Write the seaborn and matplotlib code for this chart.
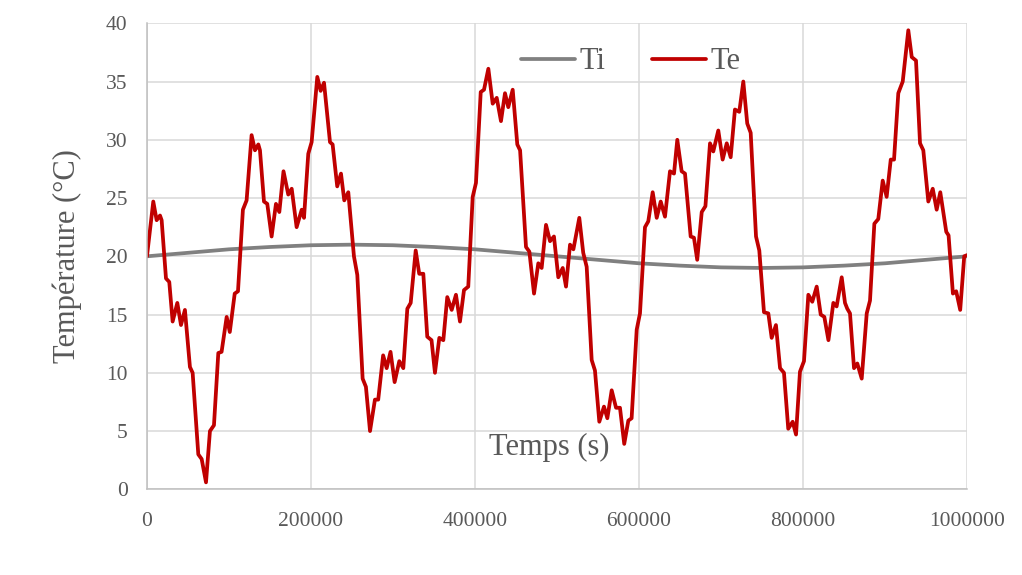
import numpy as np
import pandas as pd
import seaborn as sns
import matplotlib
matplotlib.use("Agg")
import matplotlib.pyplot as plt

# time in kiloseconds (converted to s below)
ti_t = [0, 50, 100, 150, 200, 250, 300, 350, 400, 450, 500,
        550, 600, 650, 700, 750, 800, 850, 900, 950, 1000]
ti_val = [20.0, 20.3, 20.6, 20.8, 20.95, 21.0, 20.95, 20.8, 20.6, 20.3, 20.0,
          19.7, 19.4, 19.2, 19.05, 19.0, 19.05, 19.2, 19.4, 19.7, 20.0]

te_t = [0, 7.7, 11.8, 15.9, 17.9, 23.2, 27.2, 31.3, 37.0, 41.5, 46.3, 52.4, 55.7,
        62.6, 66.7, 72.0, 76.8, 81.7, 87.0, 91.0, 97.2, 101.0, 107.0, 111.0, 117.0,
        121.5, 127.6, 131.7, 135.8, 137.8, 142.7, 146.7, 152.0, 157.3, 161.4, 166.5,
        172.3, 176.5, 182.5, 188.7, 191.5, 196.7, 200.8, 207.7, 211.8, 215.9, 223.2,
        226.4, 232.0, 236.6, 240.6, 245.5, 252.4, 256.5, 263.0, 267.0, 272.0, 278.0,
        282.0, 288.0, 292.3, 297.0, 302.0, 307.7, 312.6, 317.5, 321.6, 327.7, 332.0,
        337.0, 341.8, 347.0, 351.2, 356.5, 361.4, 366.2, 371.6, 376.8, 381.7, 386.6,
        391.8, 397.2, 401.2, 407.0, 411.0, 416.3, 421.6, 426.5, 431.7, 436.6, 440.6,
        446.0, 451.6, 455.0, 462.2, 466.3, 472.0, 477.2, 481.3, 486.6, 491.5, 496.3,
        501.6, 507.0, 511.0, 515.9, 520.0, 527.2, 532.0, 536.2, 542.3, 546.3, 551.6,
        557.3, 561.4, 566.7, 572.0, 576.8, 582.0, 587.0, 591.0, 597.2, 601.2, 607.3,
        611.3, 616.7, 621.6, 626.5, 631.7, 637.8, 642.7, 646.7, 652.0, 656.1, 663.0,
        667.0, 671.0, 676.5, 681.0, 686.6, 690.6, 696.7, 702.0, 707.0, 711.8, 717.0,
        722.3, 727.2, 732.0, 736.2, 742.7, 746.7, 752.4, 757.7, 761.8, 767.0, 772.0,
        776.8, 782.0, 787.4, 791.5, 796.3, 801.2, 806.5, 811.3, 816.7, 821.6, 826.0,
        831.0, 837.0, 841.0, 847.2, 851.2, 854.0, 857.3, 862.2, 866.2, 871.6, 877.7,
        881.7, 887.0, 891.8, 897.2, 902.0, 907.0, 911.0, 916.2, 921.6, 928.4, 932.6,
        937.8, 942.7, 946.7, 952.8, 958.2, 963.0, 967.4, 974.7, 977.5, 982.8, 986.8,
        991.7, 996.6, 1000.0]
te_val = [20.0, 24.7, 23.1, 23.5, 23.1, 18.1, 17.8, 14.4, 16.0, 14.1, 15.4, 10.5, 10.0,
          3.0, 2.6, 0.6, 5.0, 5.5, 11.7, 11.8, 14.8, 13.5, 16.8, 17.0, 24.0,
          24.8, 30.4, 29.1, 29.6, 29.1, 24.7, 24.5, 21.7, 24.5, 23.8, 27.3,
          25.3, 25.8, 22.5, 24.0, 23.3, 28.8, 29.8, 35.4, 34.2, 34.9, 29.8,
          29.6, 26.0, 27.1, 24.8, 25.5, 20.0, 18.4, 9.5, 8.8, 5.0, 7.7,
          7.7, 11.5, 10.4, 11.8, 9.2, 11.0, 10.4, 15.5, 16.0, 20.5, 18.5,
          18.5, 13.1, 12.8, 10.0, 13.0, 12.8, 16.5, 15.4, 16.7, 14.4, 17.1,
          17.4, 25.1, 26.3, 34.1, 34.3, 36.1, 33.1, 33.6, 31.6, 34.0, 32.8,
          34.3, 29.6, 29.1, 20.8, 20.4, 16.8, 19.4, 19.0, 22.7, 21.3, 21.7,
          18.2, 19.0, 17.4, 21.0, 20.6, 23.3, 20.3, 19.1, 11.1, 10.2, 5.8,
          7.1, 6.1, 8.5, 7.0, 7.0, 3.9, 5.9, 6.1, 13.7, 15.1, 22.5,
          23.0, 25.5, 23.3, 24.7, 23.4, 27.3, 27.1, 30.0, 27.3, 27.1, 21.7,
          21.6, 19.7, 23.8, 24.3, 29.7, 29.0, 30.8, 28.3, 29.7, 28.5, 32.6,
          32.4, 35.0, 31.4, 30.6, 21.7, 20.5, 15.2, 15.1, 13.0, 14.1, 10.4,
          10.0, 5.2, 5.8, 4.7, 10.1, 11.0, 16.7, 16.1, 17.4, 15.0, 14.8,
          12.8, 16.0, 15.7, 18.2, 16.0, 15.5, 15.1, 10.4, 10.8, 9.5, 15.1,
          16.2, 22.8, 23.2, 26.5, 25.1, 28.3, 28.3, 34.0, 35.0, 39.4, 37.1,
          36.8, 29.7, 29.1, 24.7, 25.8, 24.0, 25.5, 22.1, 21.8, 16.8, 17.0,
          15.4, 20.0, 20.1]

x_ticks = [0, 200000, 400000, 600000, 800000, 1000000]
y_ticks = [0, 5, 10, 15, 20, 25, 30, 35, 40]

df_ti = pd.DataFrame({"t": np.array(ti_t) * 1000, "T": ti_val})
df_te = pd.DataFrame({"t": np.array(te_t) * 1000, "T": te_val})

sns.set_style("whitegrid")
plt.rcParams["font.family"] = ["Liberation Serif", "DejaVu Serif"]
txt = "#595959"

fig = plt.figure(figsize=(10.22, 5.75), dpi=100)
ax = fig.add_axes([0.1438, 0.149, 0.8024, 0.8105])

sns.lineplot(data=df_ti, x="t", y="T", color="#808080", linewidth=2.7, label="Ti", ax=ax)
sns.lineplot(data=df_te, x="t", y="T", color="#C00000", linewidth=2.7, label="Te", ax=ax)
for l in ax.lines:
    l.set_solid_joinstyle("round")

ax.set_xlim(0, 1000000)
ax.set_ylim(0, 40)
ax.set_xticks(x_ticks)
ax.set_xticklabels([str(v) for v in x_ticks])
ax.set_yticks(y_ticks)
ax.grid(True, color="#d9d9d9", linewidth=1.1)
ax.tick_params(axis="both", length=0, labelsize=15.5, colors=txt)
ax.tick_params(axis="y", pad=14)
ax.tick_params(axis="x", pad=16)
for s in ["top", "right"]:
    ax.spines[s].set_visible(False)
for s in ["left", "bottom"]:
    ax.spines[s].set_color("#bfbfbf")
    ax.spines[s].set_linewidth(1.1)

ax.set_ylabel("Température (°C)", fontsize=22, color=txt)
ax.yaxis.set_label_coords(-0.079, 0.5)
ax.set_xlabel("Temps (s)", fontsize=22, color=txt)
ax.xaxis.set_label_coords(0.49, 0.122)

ax.legend(ncol=2, frameon=False, loc="center", bbox_to_anchor=(0.59, 0.917),
          handlelength=1.75, handletextpad=0.15, columnspacing=1.55,
          fontsize=22, labelcolor=txt)

fig.savefig("out.png", dpi=100)
